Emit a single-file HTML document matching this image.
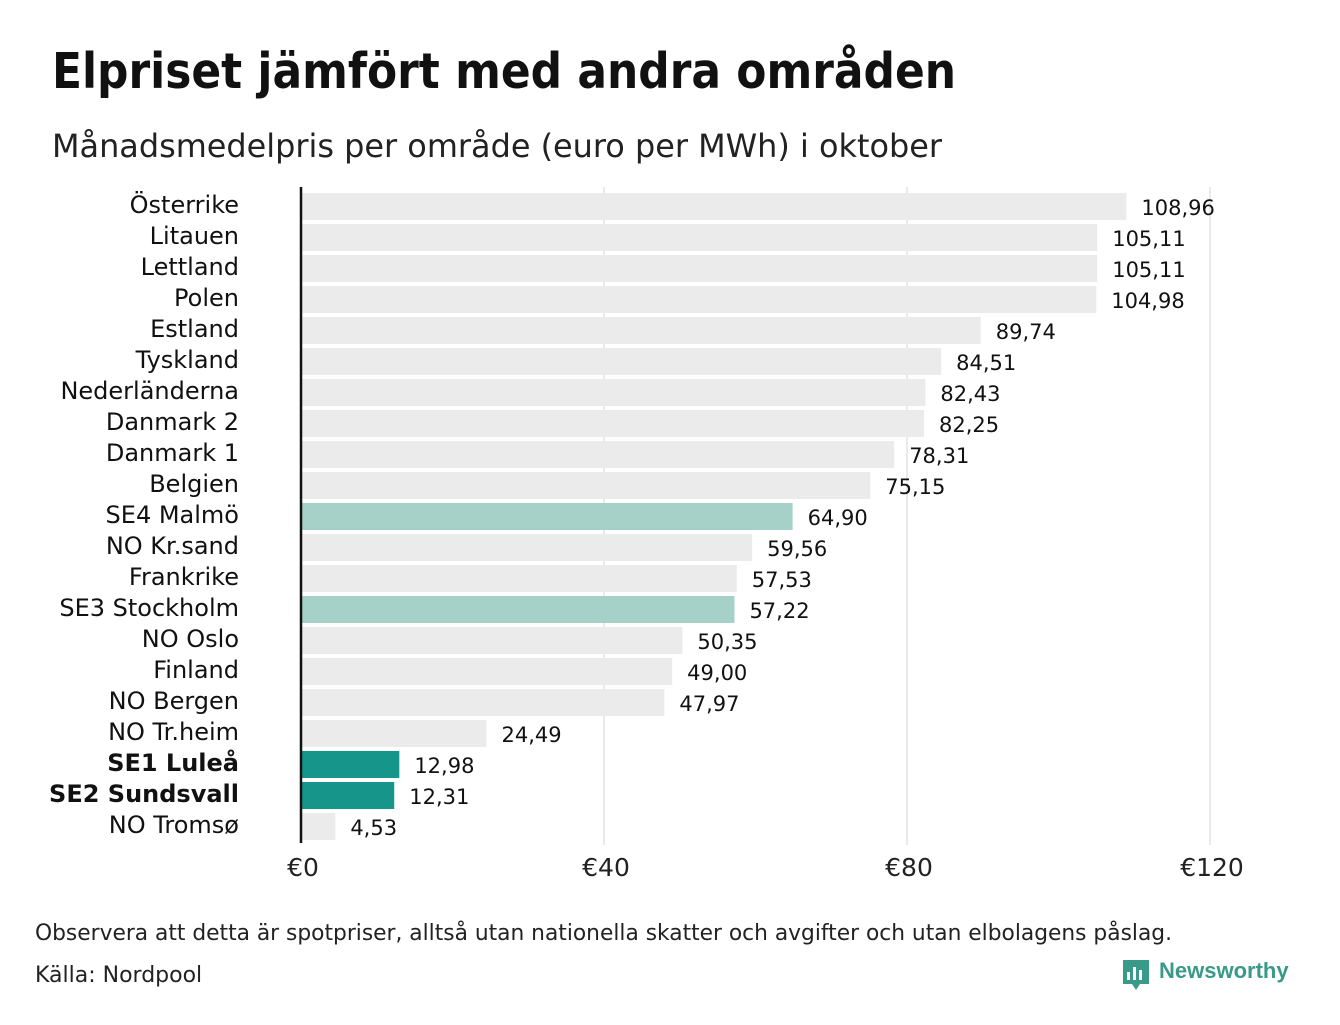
<!DOCTYPE html>
<html><head><meta charset="utf-8"><style>
body{margin:0;background:#fff;width:1340px;height:1020px;overflow:hidden;font-family:"Liberation Sans","DejaVu Sans",sans-serif;}
</style></head><body>
<svg width="1340" height="1020" xmlns="http://www.w3.org/2000/svg">
<text x="52" y="88" font-size="49" font-weight="bold" fill="#111" textLength="904" lengthAdjust="spacingAndGlyphs" font-family="DejaVu Sans, Liberation Sans, sans-serif">Elpriset jämfört med andra områden</text>
<text x="52" y="157" font-size="32" fill="#222" textLength="890" lengthAdjust="spacingAndGlyphs" font-family="DejaVu Sans, Liberation Sans, sans-serif">Månadsmedelpris per område (euro per MWh) i oktober</text>
<g id="grid"></g><g id="bars"></g><g id="labels"></g>
<line x1="301" y1="187" x2="301" y2="843" stroke="#111" stroke-width="2.5"/>
<text x="35" y="940" font-size="22" fill="#222" textLength="1137" lengthAdjust="spacingAndGlyphs" font-family="DejaVu Sans, Liberation Sans, sans-serif">Observera att detta är spotpriser, alltså utan nationella skatter och avgifter och utan elbolagens påslag.</text>
<text x="35" y="982" font-size="22" fill="#222" font-family="DejaVu Sans, Liberation Sans, sans-serif">Källa: Nordpool</text>
<g>
<path d="M1123 960 h26 v24 h-9 l-4 6 l-4 -6 h-9 z" fill="#3a9a8a"/>
<rect x="1127" y="972" width="3" height="8" fill="#fff"/><rect x="1133" y="967" width="3" height="13" fill="#fff"/><rect x="1139" y="970" width="3" height="10" fill="#fff"/>
<text x="1159" y="978" font-size="22" font-weight="bold" fill="#3a9a8a">Newsworthy</text>
</g>
</svg>
<script>
const categories=["Österrike","Litauen","Lettland","Polen","Estland","Tyskland","Nederländerna","Danmark  2","Danmark  1","Belgien","SE4  Malmö","NO Kr.sand","Frankrike","SE3  Stockholm","NO Oslo","Finland","NO Bergen","NO Tr.heim","SE1 Luleå","SE2 Sundsvall","NO Tromsø"];
const values=[108.96,105.11,105.11,104.98,89.74,84.51,82.43,82.25,78.31,75.15,64.90,59.56,57.53,57.22,50.35,49.00,47.97,24.49,12.98,12.31,4.53];
const highlight=[0,0,0,0,0,0,0,0,0,0,1,0,0,1,0,0,0,0,2,2,0];
const ticks=[0,40,80,120];
const tickLabels=["€0","€40","€80","€120"];
const NS="http://www.w3.org/2000/svg";
const x=v=>301+v*7.575;
const y=i=>193+i*31;
const colors=["#ebebeb","#a6d1c9","#16968a"];
function mk(t,a,p){const e=document.createElementNS(NS,t);for(const k in a)e.setAttribute(k,a[k]);p.appendChild(e);return e;}
const grid=document.getElementById('grid'),bars=document.getElementById('bars'),labels=document.getElementById('labels');
ticks.forEach((t,i)=>{
 if(t>0){const l=mk('line',{x1:x(t),x2:x(t),y1:187,y2:845,stroke:'#ddd','stroke-width':1.2},grid);
 
 }
 const tx=mk('text',{x:x(t)+2,y:876,'font-size':25,'text-anchor':'middle',fill:'#222','font-family':'DejaVu Sans, Liberation Sans, sans-serif'},labels);
 tx.textContent=tickLabels[i];
 
 
});
values.forEach((v,i)=>{
 const r=mk('rect',{x:x(0),y:y(i),width:x(v)-x(0),height:27,fill:colors[highlight[i]]},bars);
 
 
 const c=mk('text',{x:239,y:y(i)+20,'font-size':24,'text-anchor':'end',fill:'#111','font-weight':highlight[i]==2?'bold':'normal','font-family':'DejaVu Sans, Liberation Sans, sans-serif'},labels);
 c.textContent=categories[i];
 
 
 const t=mk('text',{x:x(v)+15,y:y(i)+22,'font-size':21,fill:'#111','font-family':'DejaVu Sans, Liberation Sans, sans-serif'},labels);
 t.textContent=v.toFixed(2).replace('.',',');
 
 
});
</script>
</body></html>
